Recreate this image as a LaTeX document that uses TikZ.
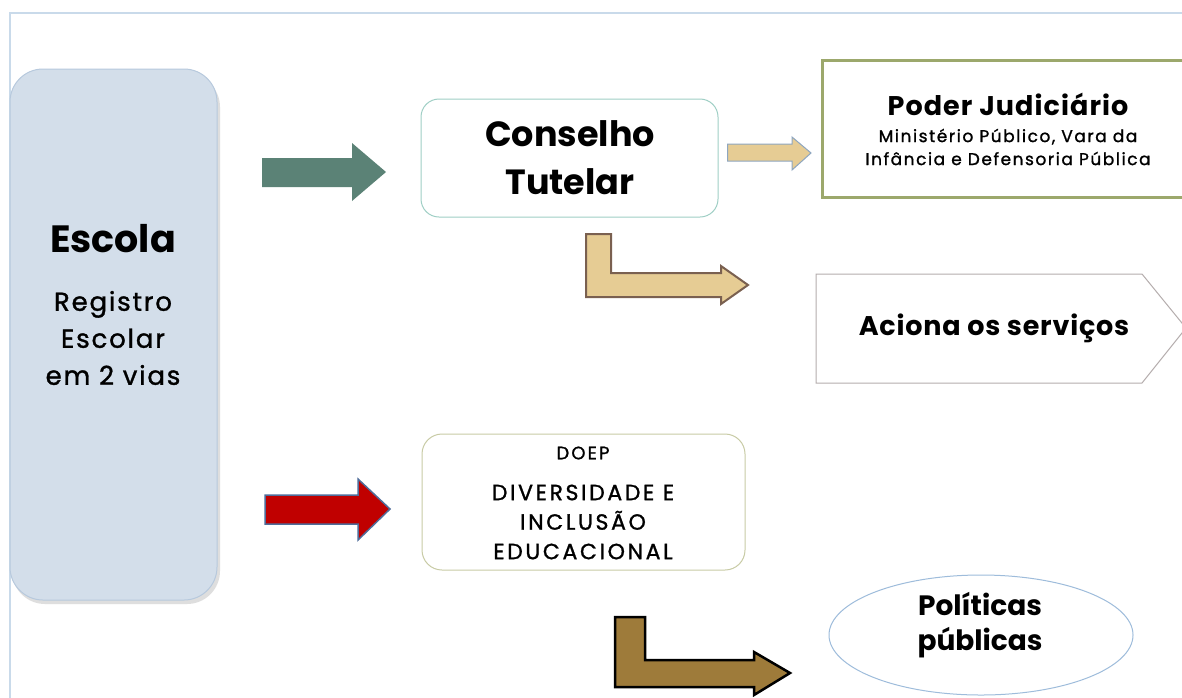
\documentclass[tikz,border=0pt]{standalone}
\usepackage{fontspec}
\setmainfont{Poppins}
\usetikzlibrary{shapes.geometric}
\definecolor{framec}{HTML}{C9DAEA}
\definecolor{escfill}{HTML}{D3DEEA}
\definecolor{escdraw}{HTML}{B7C9DD}
\definecolor{consdraw}{HTML}{9FCFC5}
\definecolor{poddraw}{HTML}{9CA86C}
\definecolor{acidraw}{HTML}{B5ADAD}
\definecolor{doepdraw}{HTML}{C8CBA5}
\definecolor{elldraw}{HTML}{9EBCDB}
\definecolor{greenarr}{HTML}{5B8276}
\definecolor{tanfill}{HTML}{E6CC94}
\definecolor{tandraw}{HTML}{7A6050}
\definecolor{smalldraw}{HTML}{8EA6C0}
\definecolor{redfill}{HTML}{C00000}
\definecolor{reddraw}{HTML}{4F6D9A}
\definecolor{brownfill}{HTML}{9E7B3A}
\newcommand{\fs}[3]{\fontsize{#1}{#2}\selectfont\addfontfeatures{LetterSpace=#3}}
\newcommand{\fsr}[3]{\fontsize{#1}{#2}\selectfont\addfontfeatures{LetterSpace=#3,FakeBold=1.2}}
\tikzset{
  txt/.style={inner sep=0pt, align=center, text=black},
}
\begin{document}
\begin{tikzpicture}[x=1pt,y=-1pt]
\useasboundingbox (0,0) rectangle (1182,697);
\fill[white] (0,0) rectangle (1182,697);
\draw[framec, line width=1.2] (10,740) -- (10,13) -- (1190,13);
% Escola
\fill[black!25, opacity=0.5, rounded corners=33] (12,74) rectangle (220,604);
\draw[escdraw, fill=escfill, line width=1, rounded corners=33] (10,69) rectangle (217,600);
\node[txt, font=\fs{38}{40}{0}\bfseries] (esct) at (113,239) {Escola};
\node[txt, font=\fsr{26}{37}{7}] (escs) at (113,338) {Registro\\Escolar\\em 2 vias};
% Conselho Tutelar
\draw[consdraw, line width=1, rounded corners=18] (421,99) rectangle (718,217);
\node[txt, font=\fs{35}{48}{0}\bfseries] (cons) at (570,158) {Conselho\\Tutelar};
% Poder Judiciario
\draw[poddraw, line width=3.5] (822.5,60.5) rectangle (1192,197.5);
\node[txt, font=\fs{27}{28}{4}\bfseries] (poder) at (1008,104) {Poder Judiciário};
\node[txt, font=\fsr{17}{23}{9}] (podsub) at (1008,147) {Ministério Público, Vara da\\Infância e Defensoria Pública};
% Aciona
\draw[acidraw, line width=1] (816,274) -- (1142,274) -- (1186,328) -- (1142,383) -- (816,383) -- cycle;
\node[txt, font=\fs{27}{28}{3}\bfseries] (aciona) at (994,328) {Aciona os serviços};
% DOEP
\draw[doepdraw, line width=1, rounded corners=20] (422,434) rectangle (745,570);
\node[txt, font=\fsr{18}{20}{12}] (doep) at (583,453) {DOEP};
\node[txt, font=\fsr{22}{29.5}{12}] (doeps) at (583,522) {DIVERSIDADE E\\INCLUSÃO\\EDUCACIONAL};
% Politicas
\draw[elldraw, line width=1] (981,635) ellipse [x radius=152, y radius=60];
\node[txt, font=\fs{28}{35}{0}\bfseries] (pol) at (980,625) {Políticas\\públicas};
% arrows
\fill[greenarr] (262,158) -- (352,158) -- (352,143) -- (386,172) -- (352,201) -- (352,187) -- (262,187) -- cycle;
\draw[smalldraw, fill=tanfill, line width=1] (727.5,144) -- (792,144) -- (792,137) -- (811,153) -- (792,170) -- (792,161) -- (727.5,161) -- cycle;
\draw[tandraw, fill=tanfill, line width=2] (586,234) -- (611,234) -- (611,273) -- (721,273) -- (721,266) -- (748,285) -- (721,304) -- (721,297) -- (586,297) -- cycle;
\draw[reddraw, fill=redfill, line width=1.5] (265,495) -- (358,495) -- (358,479) -- (390,509) -- (358,540) -- (358,524) -- (265,524) -- cycle;
\draw[black, fill=brownfill, line width=2.5] (615,617) -- (645,617) -- (645,660) -- (754,660) -- (754,652) -- (790,673) -- (754,695) -- (754,687) -- (615,687) -- cycle;
\end{tikzpicture}
\end{document}
